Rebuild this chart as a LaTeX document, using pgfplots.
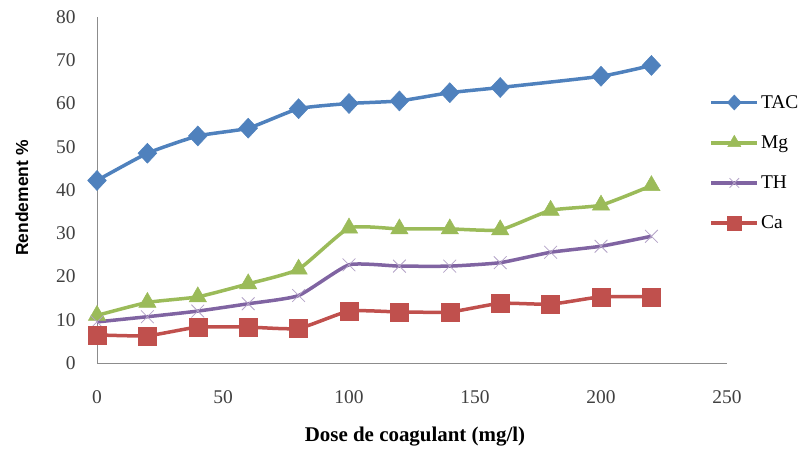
\documentclass[border=0pt]{standalone}
\usepackage{fontspec}
\setmainfont{Liberation Serif}
\newfontfamily\arialfont{Liberation Sans}
\usepackage{pgfplots}
\pgfplotsset{compat=1.18}
\definecolor{cTAC}{HTML}{4F81BD}
\definecolor{cMg}{HTML}{9BBB59}
\definecolor{cTH}{HTML}{8064A2}
\definecolor{cCa}{HTML}{C0504D}
\definecolor{tickc}{HTML}{404040}
\begin{document}
\begin{tikzpicture}
\useasboundingbox (0,0) rectangle (808bp,458bp);
\begin{axis}[
  at={(97bp,95bp)}, anchor=south west,
  scale only axis, width=630bp, height=346bp,
  xmin=0, xmax=250, ymin=0, ymax=80,
  xtick={0,50,...,250}, ytick={0,10,...,80},
  axis x line*=bottom, axis y line*=left,
  axis line style={-, draw=gray!90, line width=0.8bp},
  major tick length=0pt,
  tick label style={font=\fontsize{19.5}{19.5}\selectfont, text=tickc},
  /pgf/number format/assume math mode=true,
  xticklabel style={anchor=center, yshift=-34bp},
  yticklabel style={anchor=east, xshift=-18bp},
  clip=false,
  legend style={draw=none, fill=none, at={(rel axis cs:0.972,0.78)}, anchor=north west,
    font=\fontsize{19.5}{19.5}\selectfont, row sep=22bp, inner sep=0pt,
    /tikz/every even column/.append style={column sep=4bp}},
  legend cell align=left,
  legend image code/.code={\draw[mark repeat=2,mark phase=2, every mark/.append style={scale=0.75}] plot coordinates {(0bp,0bp)(23bp,0bp)(46bp,0bp)};},
]
\addplot[cTAC, line width=3.5bp, smooth, tension=0.3, mark=diamond*, mark size=10bp, mark options={solid, fill=cTAC, line width=0.5bp, xscale=1.25}]
coordinates {(0,42.2)(20,48.5)(40,52.5)(60,54.3)(80,58.8)(100,60.0)(120,60.6)(140,62.5)(160,63.7)(200,66.3)(220,68.8)};
\addlegendentry{TAC}
\addplot[cMg, line width=3.5bp, smooth, tension=0.3, mark=triangle*, mark size=10bp, mark options={solid, fill=cMg, line width=0.5bp}]
coordinates {(0,11.0)(20,14.0)(40,15.3)(60,18.3)(80,21.7)(100,31.2)(120,31.0)(140,31.0)(160,30.8)(180,35.3)(200,36.5)(220,41.0)};
\addlegendentry{Mg}
\addplot[cTH, line width=3.5bp, smooth, tension=0.3, mark=x, mark size=9bp, mark options={solid, draw=cTH!60, line width=0.8bp}]
coordinates {(0,9.5)(20,10.7)(40,12.0)(60,13.7)(80,15.6)(100,22.7)(120,22.4)(140,22.4)(160,23.2)(180,25.6)(200,27.0)(220,29.3)};
\addlegendentry{TH}
\addplot[cCa, line width=3.5bp, smooth, tension=0.3, mark=square*, mark size=9bp, mark options={solid, fill=cCa, line width=0.5bp}]
coordinates {(0,6.5)(20,6.3)(40,8.3)(60,8.3)(80,8.0)(100,12.0)(120,11.8)(140,11.8)(160,13.8)(180,13.6)(200,15.3)(220,15.3)};
\addlegendentry{Ca}
\end{axis}
\node[rotate=90, font=\arialfont\bfseries\fontsize{17.5}{17.5}\selectfont] at (22bp,260bp) {Rendement \%};
\node[font=\bfseries\fontsize{21}{21}\selectfont] at (415bp,21bp) {Dose de coagulant (mg/l)};
\end{tikzpicture}
\end{document}
